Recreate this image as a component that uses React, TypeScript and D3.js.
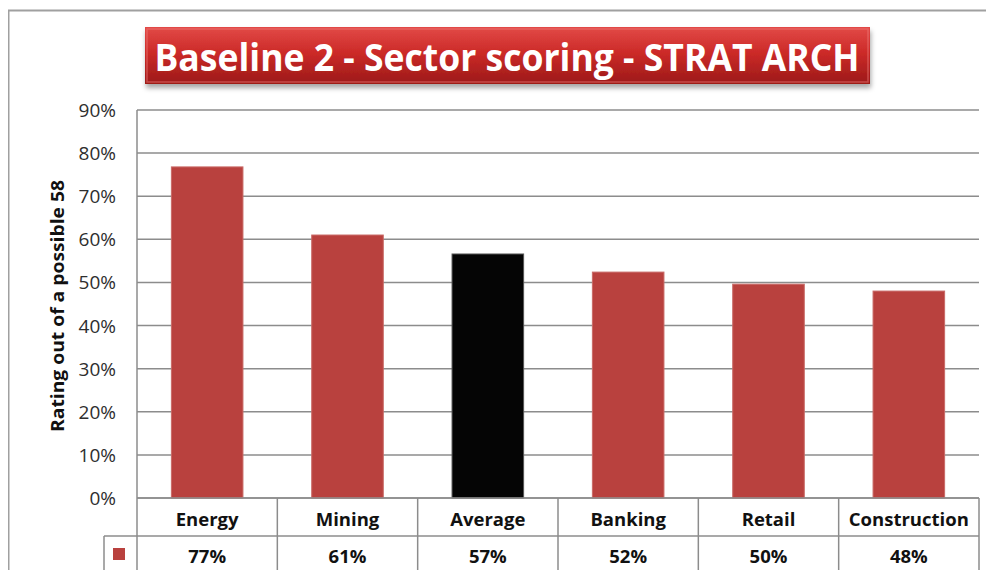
import React, { useEffect, useRef } from 'react';
import * as d3 from 'd3';

const categories = ['Energy', 'Mining', 'Average', 'Banking', 'Retail', 'Construction'];
const scores = [0.768, 0.61, 0.566, 0.524, 0.496, 0.48];
const yTicks = [0, 0.1, 0.2, 0.3, 0.4, 0.5, 0.6, 0.7, 0.8, 0.9];

const W = 994;
const H = 578;

function SectorChart() {
    const ref = useRef<SVGSVGElement>(null);

    useEffect(() => {
        const svg = d3.select(ref.current);
        svg.selectAll('*').remove();

        const left = 137, right = 979, top = 110, bottom = 498;
        const font = 'Open Sans, sans-serif';

        const x = d3.scaleBand<string>().domain(categories).range([left, right]).paddingInner(0).paddingOuter(0);
        const y = d3.scaleLinear().domain([0, 0.9]).range([bottom, top]);
        const pct = d3.format('.0%');

        // outer frame (only top & left visible)
        svg.append('path')
            .attr('d', `M8.5,${H} V10.5 H${W}`)
            .attr('fill', 'none')
            .attr('stroke', '#a0a0a0')
            .attr('stroke-width', 2);

        // title box
        const defs = svg.append('defs');
        const grad = defs.append('linearGradient').attr('id', 'titleGrad')
            .attr('x1', 0).attr('y1', 0).attr('x2', 0).attr('y2', 1);
        grad.append('stop').attr('offset', '0%').attr('stop-color', '#e24a47');
        grad.append('stop').attr('offset', '45%').attr('stop-color', '#cc2a28');
        grad.append('stop').attr('offset', '100%').attr('stop-color', '#9c1a19');
        const shadow = defs.append('filter').attr('id', 'shadow')
            .attr('x', '-5%').attr('y', '-20%').attr('width', '110%').attr('height', '150%');
        shadow.append('feDropShadow').attr('dx', 1).attr('dy', 4).attr('stdDeviation', 2.5)
            .attr('flood-color', '#000').attr('flood-opacity', 0.35);

        svg.append('rect')
            .attr('x', 145).attr('y', 27).attr('width', 725).attr('height', 57)
            .attr('fill', 'url(#titleGrad)')
            .attr('filter', 'url(#shadow)');
        svg.append('rect')
            .attr('x', 147).attr('y', 29).attr('width', 721).attr('height', 53)
            .attr('fill', 'none').attr('stroke', '#f07b77').attr('stroke-opacity', 0.5).attr('stroke-width', 1.5);
        svg.append('text')
            .attr('x', 507).attr('y', 56)
            .attr('text-anchor', 'middle').attr('dominant-baseline', 'central')
            .attr('font-family', font).attr('font-weight', 'bold').attr('font-size', 38)
            .attr('fill', '#ffffff')
            .attr('textLength', 705).attr('lengthAdjust', 'spacingAndGlyphs')
            .text('Baseline 2 - Sector scoring - STRAT ARCH');

        // gridlines
        svg.append('g').selectAll('line').data(yTicks).enter().append('line')
            .attr('x1', left).attr('x2', right)
            .attr('y1', (d) => y(d)).attr('y2', (d) => y(d))
            .attr('stroke', '#8c8c8c').attr('stroke-width', 1.5);

        // y axis line
        svg.append('line')
            .attr('x1', left).attr('x2', left).attr('y1', top).attr('y2', bottom)
            .attr('stroke', '#8c8c8c').attr('stroke-width', 1.5);

        // tick labels
        svg.append('g').selectAll('text').data(yTicks).enter().append('text')
            .attr('x', 116).attr('y', (d) => y(d))
            .attr('text-anchor', 'end').attr('dominant-baseline', 'central')
            .attr('font-family', font).attr('font-size', 19).attr('fill', '#2e2e2e')
            .text((d) => pct(d));

        // axis title
        svg.append('text')
            .attr('transform', 'translate(57,306) rotate(-90)')
            .attr('text-anchor', 'middle').attr('dominant-baseline', 'central')
            .attr('font-family', font).attr('font-weight', 'bold').attr('font-size', 18).attr('fill', '#111')
            .attr('textLength', 252).attr('lengthAdjust', 'spacingAndGlyphs')
            .text('Rating out of a possible 58');

        // bars
        const bw = x.bandwidth() * 0.51;
        svg.append('g').selectAll('rect').data(scores).enter().append('rect')
            .attr('x', (_, i) => (x(categories[i]) as number) + (x.bandwidth() - bw) / 2)
            .attr('y', (d) => y(d))
            .attr('width', bw)
            .attr('height', (d) => bottom - y(d))
            .attr('fill', (_, i) => (categories[i] === 'Average' ? '#050505' : '#b9413e'))
            .attr('stroke', (_, i) => (categories[i] === 'Average' ? '#555' : '#c96a67'))
            .attr('stroke-width', 1);

        // data table
        const row1 = bottom, row2 = 536, row3 = 572, legLeft = 104;
        const border = '#8c8c8c';
        const tbl = svg.append('g').attr('stroke', border).attr('stroke-width', 1.5).attr('fill', 'none');
        tbl.append('line').attr('x1', left).attr('x2', right).attr('y1', row1).attr('y2', row1);
        tbl.append('line').attr('x1', legLeft).attr('x2', right).attr('y1', row2).attr('y2', row2);
        tbl.append('line').attr('x1', legLeft).attr('x2', right).attr('y1', row3).attr('y2', row3);
        tbl.append('line').attr('x1', legLeft).attr('x2', legLeft).attr('y1', row2).attr('y2', row3);
        const cuts = categories.map((c) => x(c) as number).concat([right]);
        tbl.selectAll('line.v').data(cuts).enter().append('line').attr('class', 'v')
            .attr('x1', (d) => d).attr('x2', (d) => d)
            .attr('y1', row1).attr('y2', row3);

        svg.append('rect')
            .attr('x', 113).attr('y', 548).attr('width', 12).attr('height', 12)
            .attr('fill', '#b9413e');

        svg.append('g').selectAll('text').data(categories).enter().append('text')
            .attr('x', (d) => (x(d) as number) + x.bandwidth() / 2)
            .attr('y', (row1 + row2) / 2 + 1)
            .attr('text-anchor', 'middle').attr('dominant-baseline', 'central')
            .attr('font-family', font).attr('font-weight', 'bold').attr('font-size', 18.5).attr('fill', '#111')
            .text((d) => d);

        svg.append('g').selectAll('text').data(scores).enter().append('text')
            .attr('x', (_, i) => (x(categories[i]) as number) + x.bandwidth() / 2)
            .attr('y', (row2 + row3) / 2 + 1)
            .attr('text-anchor', 'middle').attr('dominant-baseline', 'central')
            .attr('font-family', font).attr('font-weight', 'bold').attr('font-size', 18.5).attr('fill', '#111')
            .text((d) => pct(d));
    }, []);

    return <svg ref={ref} width={W} height={H} style={{ display: 'block', background: '#fff' }} />;
}

export default function App() {
    return (
        <div style={{ margin: -8 }}>
            <SectorChart />
        </div>
    );
}
